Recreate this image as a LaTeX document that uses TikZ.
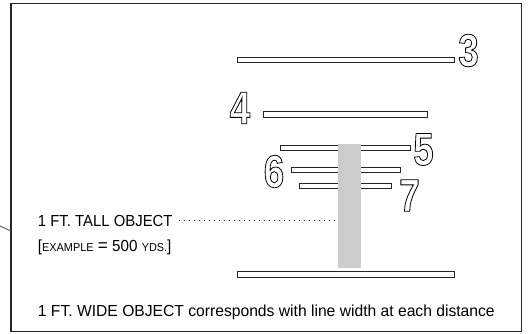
\documentclass[tikz,border=0pt]{standalone}
\usepackage{fontspec}
\setmainfont[FakeStretch=0.95]{Liberation Sans}
\newfontfamily\digitfont[FakeStretch=0.8]{Liberation Sans}
\newcommand{\outlinetxt}[1]{\special{pdf:literal direct 1 Tr 0.8 w 0 G}#1\special{pdf:literal direct 0 Tr}}
\newcommand{\fakesc}[1]{{\fontsize{11.5}{12}\selectfont #1}}
\begin{document}
\begin{tikzpicture}[x=1pt,y=-1pt,
  bar/.style={draw=black!85,line width=1pt,fill=white},
  digit/.style={inner sep=0pt,font=\digitfont\bfseries\fontsize{46}{46}\selectfont},
  lbl/.style={inner sep=0pt,anchor=base west,font=\fontsize{16}{18}\selectfont},
  dotline/.style={line width=1.4pt,dash pattern=on 1.4pt off 3.6pt,black!90}]
\useasboundingbox (0,0) rectangle (531,333);
\draw[line width=1.1pt,black!85] (11,3.3) rectangle (521.5,331.6);
\draw[line width=0.8pt,black!70] (0,226) -- (11,231);
% bars
\draw[bar] (237,57.5) rectangle (454,62.7);
\draw[bar] (263.5,111.5) rectangle (427.5,117);
\draw[bar] (280.8,145.5) rectangle (410,150.7);
\draw[bar] (291.5,167.5) rectangle (400,172.7);
\draw[bar] (299,183.3) rectangle (391.7,188.7);
\draw[bar] (237,271.8) rectangle (454,277);
% gray object
\node[fill=black!20,inner sep=0pt,minimum width=23pt,minimum height=124pt] (obj) at (349.5,206.3) {};
% digits
\node[digit] (d3) at (468.5,50.5) {\outlinetxt{3}};
\node[digit] (d4) at (240,108) {\outlinetxt{4}};
\node[digit] (d5) at (423.5,149.5) {\outlinetxt{5}};
\node[digit] (d6) at (274,171.5) {\outlinetxt{6}};
\node[digit] (d7) at (409.5,195.5) {\outlinetxt{7}};
% labels
\node[lbl] (tall) at (37.7,226.5) {\scalebox{0.98}[1]{1 FT. TALL OBJECT}};
\node[lbl] (ex) at (37.7,251.7) {[\fakesc{EXAMPLE} {\fontsize{18}{18}\selectfont=} 500 \fakesc{YDS.}]};
\node[lbl] (wide) at (37.7,316.5) {\scalebox{1.03}[1]{1 FT. WIDE OBJECT corresponds with line width at each distance}};
\coordinate (dotend) at ([xshift=-4pt]obj.west |- 0,220.5);
\draw[dotline] ([xshift=6pt]tall.east |- 0,220.5) -- (dotend);
\end{tikzpicture}
\end{document}
